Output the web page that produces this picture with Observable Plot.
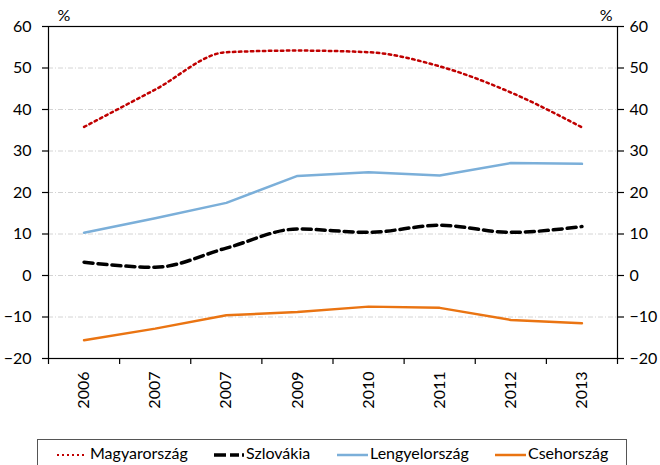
<!DOCTYPE html>
<html>
<head>
<meta charset="utf-8">
<script src="https://cdn.jsdelivr.net/npm/d3@7"></script>
<script src="https://cdn.jsdelivr.net/npm/@observablehq/plot@0.6"></script>
<style>
  html, body { margin: 0; padding: 0; background: #fff; }
  #wrap { position: relative; width: 660px; height: 465px; overflow: hidden; font-family: Lato, "Open Sans", sans-serif; }
  #legend { position: absolute; left: 37px; top: 439px; width: 590px; height: 40px; border: 1px solid #555; box-sizing: border-box; }
  .sw { position: absolute; top: 12px; }
  .lt { position: absolute; top: 3px; font-size: 16px; line-height: 1.2; color: #000; white-space: nowrap; }
</style>
</head>
<body>
<div id="wrap"><div id="chart"></div><div id="legend"></div></div>
<script>
const years = ["2006", "2007", "2007", "2009", "2010", "2011", "2012", "2013"];
const magyarorszag = [35.8, 44.8, 53.8, 54.2, 53.8, 50.4, 44.1, 35.7];
const szlovakia = [3.2, 2.0, 6.6, 11.2, 10.4, 12.1, 10.4, 11.8];
const lengyelorszag = [10.3, 13.8, 17.5, 24.0, 24.9, 24.1, 27.1, 26.9];
const csehorszag = [-15.6, -12.8, -9.6, -8.8, -7.5, -7.8, -10.7, -11.5];
const yTicks = [-20, -10, 0, 10, 20, 30, 40, 50, 60];
const seriesNames = ["Magyarország", "Szlovákia", "Lengyelország", "Csehország"];

const idx = years.map((d, i) => i);
const bounds = d3.range(years.length + 1).map(i => i - 0.5);

const styles = [
  {stroke: "#C00000", strokeWidth: 2.5, strokeDasharray: "2.5,3.5", curve: "monotone-x"},
  {stroke: "#000000", strokeWidth: 3.5, strokeDasharray: "9,5", curve: "monotone-x"},
  {stroke: "#7BAFD9", strokeWidth: 2.5, curve: "linear"},
  {stroke: "#EA7412", strokeWidth: 2.5, curve: "linear"}
];
const allSeries = [magyarorszag, szlovakia, lengyelorszag, csehorszag];

const chart = Plot.plot({
  width: 660,
  height: 420,
  marginLeft: 48,
  marginRight: 43,
  marginTop: 26,
  marginBottom: 62,
  style: {fontFamily: "Lato, 'Open Sans', sans-serif", fontSize: "16px", color: "#000", background: "#fff"},
  x: {type: "linear", domain: [-0.5, years.length - 0.5]},
  y: {domain: [-20, 60]},
  marks: [
    Plot.ruleY(yTicks.filter(d => d > -20 && d < 60), {stroke: "#d4d4d4", strokeDasharray: "5,2,1,2"}),
    ...allSeries.map((s, k) => Plot.line(s, {x: (d, i) => i, y: d => d, ...styles[k]})),
    Plot.frame({stroke: "#000", strokeWidth: 1.2}),
    Plot.axisY({ticks: yTicks, anchor: "left", tickSize: 6, tickPadding: 11, label: null, strokeWidth: 1.2}),
    Plot.axisY({ticks: yTicks, anchor: "right", tickSize: 6, tickPadding: 6, label: null, strokeWidth: 1.2}),
    Plot.axisX({ticks: bounds, anchor: "bottom", tickSize: 6, tickFormat: () => "", label: null, strokeWidth: 1.2}),
    Plot.axisX({ticks: idx, anchor: "bottom", tickSize: 0, tickPadding: 13, tickRotate: -90, tickFormat: i => years[i], label: null}),
    Plot.text(["%"], {frameAnchor: "top-left", text: d => d, dx: 9, dy: -6, textAnchor: "start", lineAnchor: "bottom"}),
    Plot.text(["%"], {frameAnchor: "top-right", text: d => d, dx: -5, dy: -6, textAnchor: "end", lineAnchor: "bottom"})
  ]
});
document.getElementById("chart").appendChild(chart);

// Legend
const legendPos = [
  {sw: 57, sww: 30, tx: 90},
  {sw: 214, sww: 30, tx: 246},
  {sw: 337, sww: 31, tx: 370},
  {sw: 495, sww: 31, tx: 528}
];
const legend = document.getElementById("legend");
seriesNames.forEach((name, k) => {
  const p = legendPos[k];
  const st = styles[k];
  const svgNS = "http://www.w3.org/2000/svg";
  const sv = document.createElementNS(svgNS, "svg");
  sv.setAttribute("class", "sw");
  sv.setAttribute("width", p.sww);
  sv.setAttribute("height", 6);
  sv.style.left = (p.sw - 38) + "px";
  const ln = document.createElementNS(svgNS, "line");
  ln.setAttribute("x1", 0); ln.setAttribute("x2", p.sww);
  ln.setAttribute("y1", 3); ln.setAttribute("y2", 3);
  ln.setAttribute("stroke", st.stroke);
  ln.setAttribute("stroke-width", k === 1 ? 3.5 : (k === 0 ? 2 : 2.5));
  if (st.strokeDasharray) ln.setAttribute("stroke-dasharray", k === 0 ? "2,3" : "12,4,9,3,2,20");
  sv.appendChild(ln);
  legend.appendChild(sv);
  const t = document.createElement("span");
  t.className = "lt";
  t.style.left = (p.tx - 38) + "px";
  t.textContent = name;
  legend.appendChild(t);
});
</script>
</body>
</html>
